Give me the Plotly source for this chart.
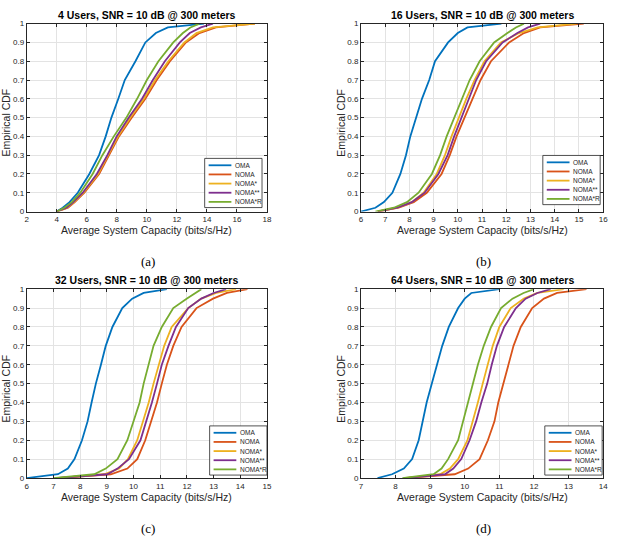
import plotly.graph_objects as go

# ---------------- data ----------------
cdf_levels = [0, 0.02, 0.05, 0.1, 0.2, 0.3, 0.4, 0.5, 0.6, 0.7, 0.8, 0.9, 0.95, 0.98, 1.0]
series_names = ["OMA", "NOMA", "NOMA*", "NOMA**", "NOMA*R"]
series_colors = ["#0072BD", "#D95319", "#EDB120", "#7E2F8E", "#77AC30"]

# (a) 4 users
a_oma    = [4.0, 4.4, 4.85, 5.4, 6.17, 6.82, 7.26, 7.64, 8.1, 8.53, 9.24, 9.9, 10.6, 11.4, 13.8]
a_noma   = [4.0, 4.75, 5.2, 5.84, 6.82, 7.48, 8.14, 9.0, 9.9, 10.66, 11.54, 12.6, 13.5, 14.6, 17.2]
a_noma1  = [4.0, 4.7, 5.15, 5.78, 6.75, 7.4, 8.08, 8.9, 9.8, 10.55, 11.43, 12.5, 13.3, 14.4, 17.2]
a_noma2  = [4.0, 4.65, 5.1, 5.73, 6.67, 7.37, 7.99, 8.8, 9.68, 10.4, 11.2, 12.2, 12.86, 13.6, 14.4]
a_nomar  = [4.0, 4.5, 5.0, 5.57, 6.39, 7.04, 7.8, 8.64, 9.35, 10.0, 10.77, 11.76, 12.4, 12.9, 13.5]
# (b) 16 users
b_oma    = [6.0, 6.6, 6.95, 7.3, 7.63, 7.86, 8.04, 8.29, 8.52, 8.82, 9.06, 9.6, 10.0, 10.4, 11.8]
b_noma   = [6.7, 7.56, 8.18, 8.72, 9.33, 9.67, 9.95, 10.29, 10.63, 10.94, 11.37, 12.12, 12.73, 13.4, 15.2]
b_noma1  = [6.7, 7.5, 8.1, 8.59, 9.13, 9.47, 9.74, 10.04, 10.35, 10.69, 11.1, 11.78, 12.53, 13.3, 14.9]
b_noma2  = [6.7, 7.5, 8.1, 8.63, 9.2, 9.58, 9.85, 10.15, 10.46, 10.76, 11.17, 11.85, 12.46, 12.9, 13.4]
b_nomar  = [6.6, 7.36, 7.9, 8.38, 8.93, 9.27, 9.54, 9.85, 10.15, 10.49, 10.9, 11.5, 12.05, 12.4, 12.73]
# (c) 32 users
c_oma    = [6.0, 7.17, 7.54, 7.79, 8.07, 8.28, 8.43, 8.59, 8.78, 8.96, 9.21, 9.58, 9.95, 10.38, 11.25]
c_noma   = [7.2, 9.15, 9.77, 10.14, 10.44, 10.67, 10.88, 11.06, 11.25, 11.49, 11.8, 12.36, 12.98, 13.5, 14.27]
c_noma1  = [7.2, 8.9, 9.46, 9.79, 10.14, 10.36, 10.57, 10.75, 10.94, 11.15, 11.43, 12.05, 12.54, 13.1, 13.84]
c_noma2  = [7.2, 9.02, 9.4, 9.83, 10.26, 10.48, 10.69, 10.88, 11.06, 11.31, 11.59, 12.05, 12.54, 13.0, 13.47]
c_nomar  = [7.0, 8.53, 8.96, 9.4, 9.77, 10.01, 10.23, 10.38, 10.57, 10.75, 11.06, 11.49, 11.99, 12.3, 12.54]
# (d) 64 users
d_oma    = [7.48, 7.9, 8.24, 8.48, 8.67, 8.79, 8.9, 9.05, 9.19, 9.35, 9.54, 9.81, 10.0, 10.19, 11.0]
d_noma   = [8.3, 9.71, 10.1, 10.43, 10.67, 10.86, 10.97, 11.12, 11.26, 11.41, 11.62, 11.95, 12.29, 12.67, 13.52]
d_noma1  = [8.3, 9.29, 9.57, 9.81, 10.08, 10.24, 10.38, 10.52, 10.67, 10.81, 11.0, 11.33, 11.71, 12.1, 12.86]
d_noma2  = [8.3, 9.43, 9.67, 9.9, 10.14, 10.33, 10.48, 10.65, 10.78, 10.93, 11.14, 11.48, 11.76, 12.1, 12.48]
d_nomar  = [8.2, 9.1, 9.33, 9.52, 9.81, 9.95, 10.1, 10.24, 10.38, 10.55, 10.76, 11.05, 11.38, 11.7, 12.0]

titles = ["4 Users, SNR = 10 dB @ 300 meters", "16 Users, SNR = 10 dB @ 300 meters",
          "32 Users, SNR = 10 dB @ 300 meters", "64 Users, SNR = 10 dB @ 300 meters"]
captions = ["(a)", "(b)", "(c)", "(d)"]
x_ranges = [[2, 18], [6, 16], [6, 15], [7, 14]]
x_dticks = [2, 1, 1, 1]
panel_data = [
    [a_oma, a_noma, a_noma1, a_noma2, a_nomar],
    [b_oma, b_noma, b_noma1, b_noma2, b_nomar],
    [c_oma, c_noma, c_noma1, c_noma2, c_nomar],
    [d_oma, d_noma, d_noma1, d_noma2, d_nomar],
]

# ---------------- layout geometry (pixels) ----------------
W, H = 620, 544
# plot boxes: left, right, top, bottom
boxes = [(25, 268, 20, 211), (363, 608, 20, 211), (25, 268, 290, 482), (363, 608, 290, 482)]
legend_boxes = [(205, 157), (547, 154), (210, 429), (549, 429)]

def PX(x):
    return x / W

def PY(y):
    return 1 - y / H

fig = go.Figure()
shapes = []
annotations = []
FONT = "Liberation Sans, Arial, sans-serif"
AXC = "#262626"

def note(x, y, text, size, color="black", family=FONT, xanchor="center", angle=0):
    annotations.append(dict(x=PX(x), y=PY(y), xref="paper", yref="paper",
                            xanchor=xanchor, yanchor="middle", text=text,
                            showarrow=False, textangle=angle,
                            font=dict(family=family, size=size, color=color)))

for i in range(4):
    sfx = "" if i == 0 else str(i + 1)
    for name, color, xs in zip(series_names, series_colors, panel_data[i]):
        fig.add_trace(go.Scatter(
            x=xs, y=cdf_levels, mode="lines", name=name, showlegend=False,
            line=dict(color=color, width=1.8),
            xaxis="x" + sfx, yaxis="y" + sfx,
        ))
    l, r, t, b = boxes[i]
    axcommon = dict(showline=True, linecolor=AXC, linewidth=0.8, mirror="ticks",
                    ticks="inside", ticklen=3, tickcolor=AXC, showgrid=True,
                    gridcolor="#e3e3e3", gridwidth=0.8, zeroline=False,
                    tickfont=dict(family=FONT, size=8, color=AXC))
    fig.update_layout(**{
        "xaxis" + sfx: dict(domain=[PX(l), PX(r)], range=x_ranges[i], dtick=x_dticks[i],
                            tick0=0, anchor="y" + sfx, **axcommon),
        "yaxis" + sfx: dict(domain=[PY(b), PY(t)], range=[0, 1], dtick=0.1, tick0=0,
                            anchor="x" + sfx, **axcommon),
    })
    cx = (l + r) / 2
    note(cx, t - 9, "<b>" + titles[i] + "</b>", 10.5)
    note(cx, b + 19, "Average System Capacity (bits/s/Hz)", 10.5, AXC)
    note(l - 21, (t + b) / 2 + 5, "Empirical CDF", 10.5, AXC, angle=-90)
    note(cx + 1, b + 51, captions[i], 13, family="Liberation Serif, DejaVu Serif, serif")
    # legend box
    lx, ly = legend_boxes[i]
    shapes.append(dict(type="rect", xref="paper", yref="paper",
                       x0=PX(lx), x1=PX(lx + 58), y0=PY(ly + 50), y1=PY(ly),
                       line=dict(color=AXC, width=0.8), fillcolor="white", layer="above"))
    for k, (name, color) in enumerate(zip(series_names, series_colors)):
        yy = ly + 7 + k * 9.3
        shapes.append(dict(type="line", xref="paper", yref="paper",
                           x0=PX(lx + 4), x1=PX(lx + 27), y0=PY(yy), y1=PY(yy),
                           line=dict(color=color, width=1.8), layer="above"))
        note(lx + 29, yy, name, 6.5, AXC, xanchor="left")

fig.update_layout(width=W, height=H, margin=dict(l=0, r=0, t=0, b=0),
                  paper_bgcolor="white", plot_bgcolor="white",
                  shapes=shapes, annotations=annotations, showlegend=False)

fig.write_html("out.html", config={"displayModeBar": False},
               post_script="document.body.style.margin='0';document.body.style.padding='0';")
